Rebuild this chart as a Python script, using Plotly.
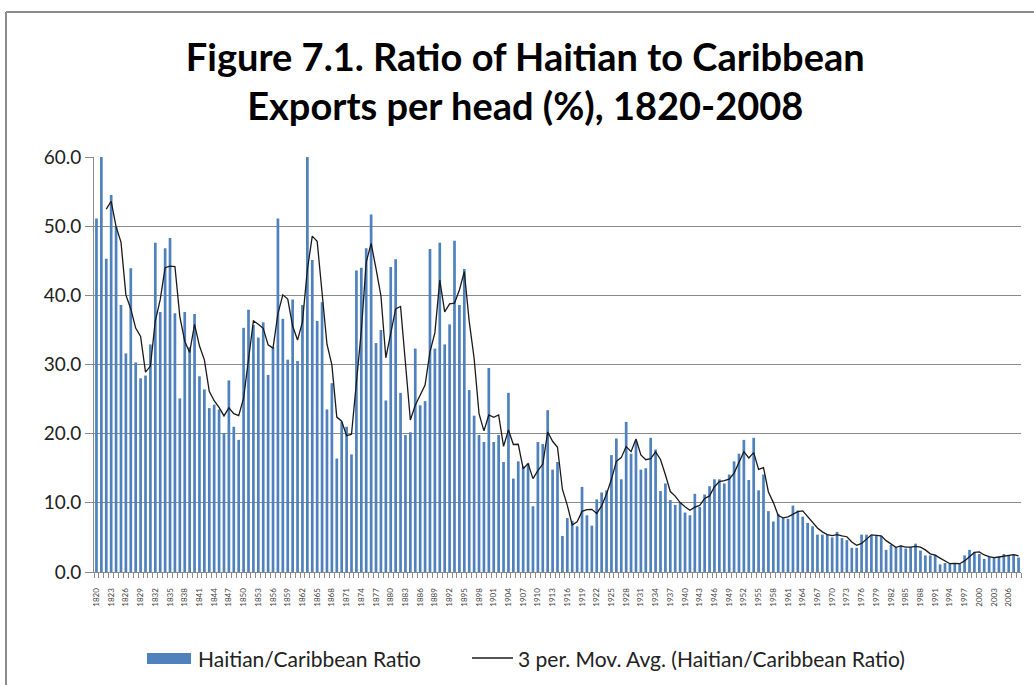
import pandas as pd
import plotly.graph_objects as go

# Annual ratio of Haitian to Caribbean exports per head (%), 1820-2008
years = list(range(1820, 2009))
ratio = [
    51.1, 61.0, 45.3, 54.5, 50.0, 38.6, 31.6, 43.9, 30.3, 28.0,   # 1820s
    28.4, 32.9, 47.6, 37.6, 46.8, 48.3, 37.4, 25.1, 37.6, 32.5,   # 1830s
    37.3, 28.3, 26.4, 23.7, 24.2, 23.5, 20.0, 27.7, 21.0, 19.1,   # 1840s
    35.3, 37.9, 35.7, 33.9, 36.1, 28.5, 32.5, 51.1, 36.6, 30.7,   # 1850s
    39.4, 30.5, 38.6, 62.0, 45.1, 36.3, 39.0, 23.5, 27.3, 16.4,   # 1860s
    21.7, 21.0, 17.0, 43.6, 44.0, 46.8, 51.7, 33.1, 35.0, 24.8,   # 1870s
    44.1, 45.2, 25.9, 19.8, 20.2, 32.3, 24.1, 24.7, 46.7, 32.3,   # 1880s
    47.6, 32.9, 35.8, 47.9, 38.6, 43.8, 26.3, 22.6, 19.8, 18.8,   # 1890s
    29.5, 18.8, 19.8, 15.9, 25.9, 13.5, 16.0, 15.3, 15.7, 9.5,    # 1900s
    18.8, 18.5, 23.4, 14.8, 15.9, 5.2, 7.8, 7.4, 6.6, 12.3,       # 1910s
    8.2, 6.7, 10.5, 11.5, 11.8, 16.9, 19.3, 13.4, 21.7, 17.1,     # 1920s
    18.9, 14.8, 15.0, 19.4, 17.7, 11.7, 12.8, 10.4, 9.7, 10.0,    # 1930s
    8.6, 8.2, 11.3, 9.4, 11.2, 12.4, 13.4, 13.4, 12.8, 14.1,      # 1940s
    16.0, 17.1, 19.1, 13.3, 19.4, 11.8, 14.1, 8.8, 7.3, 8.4,      # 1950s
    7.8, 7.7, 9.6, 8.9, 8.0, 7.1, 6.6, 5.4, 5.4, 5.4,             # 1960s
    5.0, 5.8, 4.9, 4.6, 3.5, 3.5, 5.4, 5.4, 5.3, 5.2,             # 1970s
    5.2, 3.2, 3.9, 3.6, 3.8, 3.4, 3.6, 4.1, 3.1, 2.4,             # 1980s
    2.4, 2.5, 1.1, 1.3, 1.2, 1.2, 1.2, 2.4, 3.2, 2.9,             # 1990s
    2.6, 1.9, 2.2, 2.1, 2.2, 2.6, 2.4, 2.5, 2.1,                  # 2000s
]
tick_years = list(range(1820, 2007, 3))

# 3-period moving average trendline of the ratio
mov_avg = pd.Series(ratio).rolling(3).mean().tolist()

BAR_BLUE = "#4F81BD"
GRID = "#8a8a8a"
FONT = "Lato"

fig = go.Figure()
fig.add_trace(go.Bar(
    x=years, y=ratio, name="Haitian/Caribbean Ratio",
    marker=dict(color=BAR_BLUE, line=dict(width=0)),
    width=0.55, showlegend=False,
))
fig.add_trace(go.Scatter(
    x=years, y=mov_avg, mode="lines",
    name="3 per. Mov. Avg. (Haitian/Caribbean Ratio)",
    line=dict(color="#1a1a1a", width=1.3), showlegend=False,
))

fig.update_layout(
    width=1034, height=685,
    margin=dict(l=94, r=13, t=157, b=113),
    paper_bgcolor="white", plot_bgcolor="white",
    font=dict(family=FONT, color="#222222"),
    title=dict(
        text="<b>Figure 7.1. Ratio of Haitian to Caribbean<br>Exports per head (%), 1820-2008</b>",
        font=dict(family=FONT, size=38, color="black"),
        xref="container", yref="container",
        x=0.508, xanchor="center", y=0.897, yanchor="middle",
    ),
    bargap=0.45,
)

fig.update_yaxes(
    range=[0, 60], dtick=10, tickformat=".1f",
    showgrid=True, gridcolor=GRID, gridwidth=1,
    showline=True, linecolor=GRID, linewidth=1,
    ticks="outside", ticklen=8, tickcolor=GRID,
    tickfont=dict(family=FONT, size=19, color="#222222"),
    zeroline=False, fixedrange=True,
)
fig.update_xaxes(
    range=[1819.5, 2008.5],
    tickmode="array", tickvals=tick_years, ticktext=[str(y) for y in tick_years],
    tickangle=-90, ticks="", ticklabelstandoff=12,
    tickfont=dict(family=FONT, size=8, color="#444444"),
    showgrid=False, zeroline=False,
    showline=True, linecolor=GRID, linewidth=1,
    minor=dict(tick0=1819.5, dtick=1, ticks="outside", ticklen=5,
               tickcolor=GRID, showgrid=False),
)

# chart frame (top and left edges)
def px_x(p):
    return (p - 94) / 927

def px_y(p):
    return (572 - p) / 415

frame = dict(color="#8c8c8c", width=2)
fig.add_shape(type="line", xref="paper", yref="paper",
              x0=px_x(6), x1=px_x(1034), y0=px_y(12), y1=px_y(12), line=frame)
fig.add_shape(type="line", xref="paper", yref="paper",
              x0=px_x(6), x1=px_x(6), y0=px_y(12), y1=px_y(685), line=frame)

# legend below the plot
fig.add_shape(type="rect", xref="paper", yref="paper",
              x0=px_x(147), x1=px_x(191), y0=px_y(653), y1=px_y(664),
              fillcolor=BAR_BLUE, line=dict(width=0))
fig.add_annotation(xref="paper", yref="paper", x=px_x(196), y=px_y(658),
                   xanchor="left", yanchor="middle", showarrow=False,
                   text="Haitian/Caribbean Ratio",
                   font=dict(family=FONT, size=21, color="#222222"))
fig.add_shape(type="line", xref="paper", yref="paper",
              x0=px_x(472), x1=px_x(513), y0=px_y(658), y1=px_y(658),
              line=dict(color="#1a1a1a", width=1.3))
fig.add_annotation(xref="paper", yref="paper", x=px_x(516), y=px_y(658),
                   xanchor="left", yanchor="middle", showarrow=False,
                   text="3 per. Mov. Avg. (Haitian/Caribbean Ratio)",
                   font=dict(family=FONT, size=21, color="#222222"))

fig.write_html("out.html")
